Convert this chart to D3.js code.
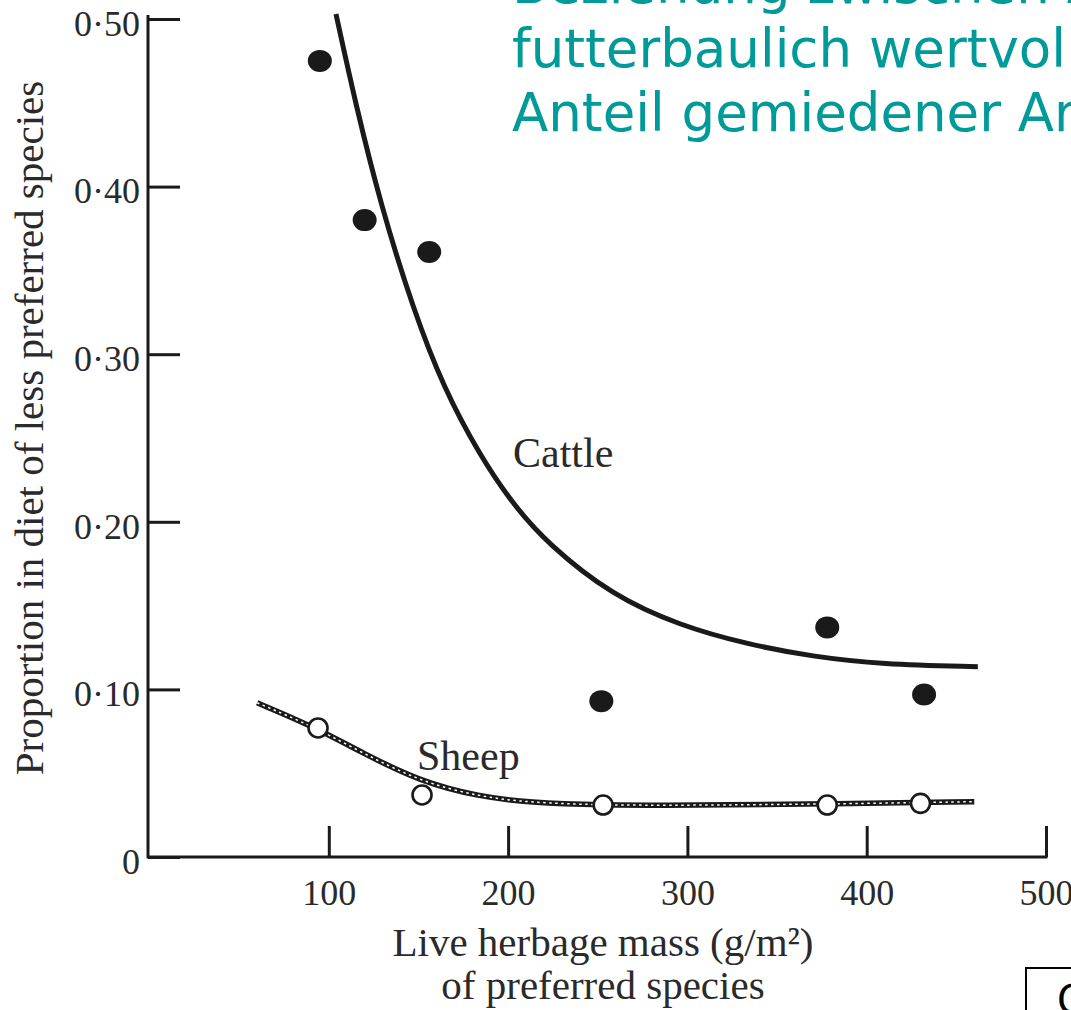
<!DOCTYPE html>
<html>
<head>
<meta charset="utf-8">
<script src="https://cdn.jsdelivr.net/npm/d3@7/dist/d3.min.js"></script>
<style>
  html, body { margin: 0; padding: 0; background: #fff; overflow: hidden; }
  svg { display: block; }
</style>
</head>
<body>
<svg id="chart" width="1071" height="1010"></svg>
<script>
// ---- data ----
const xTicks = [100, 200, 300, 400, 500];
const yTicks = [0, 0.1, 0.2, 0.3, 0.4, 0.5];
const yTickLabels = ["0", "0·10", "0·20", "0·30", "0·40", "0·50"];

// observed points (live herbage mass g/m², proportion)
const cattleX = [95, 120, 156, 252, 378, 432];
const cattleY = [0.475, 0.380, 0.361, 0.093, 0.137, 0.097];
const sheepX = [94, 152, 253, 378, 430];
const sheepY = [0.077, 0.037, 0.031, 0.031, 0.032];

// fitted curves
const cattleCurveX = [104, 115, 129, 147, 164, 184, 203, 222, 258, 296, 333, 370, 408, 462];
const cattleCurveY = [0.503, 0.449, 0.389, 0.327, 0.280, 0.240, 0.210, 0.187, 0.156, 0.138, 0.127, 0.1195, 0.115, 0.1135];
const sheepCurveX = [60, 91, 119, 151, 184, 212, 251, 300, 378, 460];
const sheepCurveY = [0.092, 0.078, 0.062, 0.045, 0.036, 0.0325, 0.031, 0.0308, 0.0316, 0.033];

const titleLines = ["Beziehung zwischen Angebot an", "futterbaulich wertvollen", "Anteil gemiedener Arten"];
const xTitleLines = ["Live herbage mass (g/m²)", "of preferred species"];
const yTitle = "Proportion in diet of less preferred species";

// ---- drawing ----
const svg = d3.select("#chart");
const serif = "'Liberation Serif', 'Times New Roman', serif";
const ink = "#1a1a1a";

const x = d3.scaleLinear().domain([0, 500]).range([149.5, 1046]);
const y = d3.scaleLinear().domain([0, 0.5]).range([857, 19]);

// title (teal, partially cut by the slide edge)
const title = svg.append("g");
titleLines.forEach((t, i) => {
  title.append("text")
    .attr("x", 512).attr("y", 3 + i * 64)
    .attr("font-family", "'DejaVu Sans', Verdana, sans-serif")
    .attr("font-size", 53)
    .attr("fill", "#009a99")
    .text(t);
});

// axes
const yAxis = svg.append("g")
  .attr("transform", `translate(148,0)`)
  .call(d3.axisLeft(y).tickValues(yTicks)
    .tickFormat((d, i) => yTickLabels[i])
    .tickSizeInner(-32).tickSizeOuter(0).tickPadding(8));
yAxis.select(".domain").attr("stroke", ink).attr("stroke-width", 3)
  .attr("d", `M0,${y(0) + 1.5}V15`);
yAxis.selectAll(".tick line").attr("stroke", ink).attr("stroke-width", 3);
yAxis.selectAll(".tick text")
  .attr("font-family", serif).attr("font-size", 36).attr("fill", "#2a2a2a")
  .attr("dy", "0.45em");

const xAxis = svg.append("g")
  .attr("transform", `translate(0,857)`)
  .call(d3.axisBottom(x).tickValues(xTicks)
    .tickSizeInner(-31).tickSizeOuter(0).tickPadding(22));
xAxis.select(".domain").attr("stroke", ink).attr("stroke-width", 3)
  .attr("d", `M148,0H${x(500) + 1.5}`);
xAxis.selectAll(".tick line").attr("stroke", ink).attr("stroke-width", 3);
xAxis.selectAll(".tick text")
  .attr("font-family", serif).attr("font-size", 36).attr("fill", "#2a2a2a");

// axis titles
svg.append("text")
  .attr("transform", "translate(43,428) rotate(-90)")
  .attr("text-anchor", "middle")
  .attr("font-family", serif).attr("font-size", 41).attr("fill", "#2a2a2a")
  .text(yTitle);
xTitleLines.forEach((t, i) => {
  svg.append("text")
    .attr("x", 603).attr("y", 956 + i * 43)
    .attr("text-anchor", "middle")
    .attr("font-family", serif).attr("font-size", 41).attr("fill", "#2a2a2a")
    .text(t);
});

// curves
const line = d3.line().x(d => x(d[0])).y(d => y(d[1])).curve(d3.curveBasis);
const cattleCurve = cattleCurveX.map((v, i) => [v, cattleCurveY[i]]);
const sheepCurve = sheepCurveX.map((v, i) => [v, sheepCurveY[i]]);

svg.append("path").datum(cattleCurve).attr("d", line)
  .attr("fill", "none").attr("stroke", ink).attr("stroke-width", 5)
  .attr("stroke-linecap", "butt");

svg.append("path").datum(sheepCurve).attr("d", line)
  .attr("fill", "none").attr("stroke", ink).attr("stroke-width", 5.5);
svg.append("path").datum(sheepCurve).attr("d", line)
  .attr("fill", "none").attr("stroke", "#fff").attr("stroke-width", 1.5)
  .attr("stroke-dasharray", "2.5 3.5");

// points
svg.append("g").selectAll("ellipse")
  .data(cattleX.map((v, i) => [v, cattleY[i]]))
  .join("ellipse")
  .attr("cx", d => x(d[0])).attr("cy", d => y(d[1]))
  .attr("rx", 12).attr("ry", 11)
  .attr("fill", ink);

svg.append("g").selectAll("circle")
  .data(sheepX.map((v, i) => [v, sheepY[i]]))
  .join("circle")
  .attr("cx", d => x(d[0])).attr("cy", d => y(d[1]))
  .attr("r", 9.5)
  .attr("fill", "#fff").attr("stroke", ink).attr("stroke-width", 2.6);

// curve labels
svg.append("text").attr("x", 513).attr("y", 467)
  .attr("font-family", serif).attr("font-size", 42).attr("fill", "#2a2a2a")
  .text("Cattle");
svg.append("text").attr("x", 417).attr("y", 770)
  .attr("font-family", serif).attr("font-size", 42).attr("fill", "#2a2a2a")
  .text("Sheep");

// cut-off box in lower right corner
svg.append("rect").attr("x", 1026).attr("y", 968).attr("width", 80).attr("height", 80)
  .attr("fill", "#fff").attr("stroke", "#000").attr("stroke-width", 2);
svg.append("text").attr("x", 1057).attr("y", 1014)
  .attr("font-family", "'DejaVu Sans', sans-serif").attr("font-size", 40).attr("fill", "#000")
  .text("C");
</script>
</body>
</html>
